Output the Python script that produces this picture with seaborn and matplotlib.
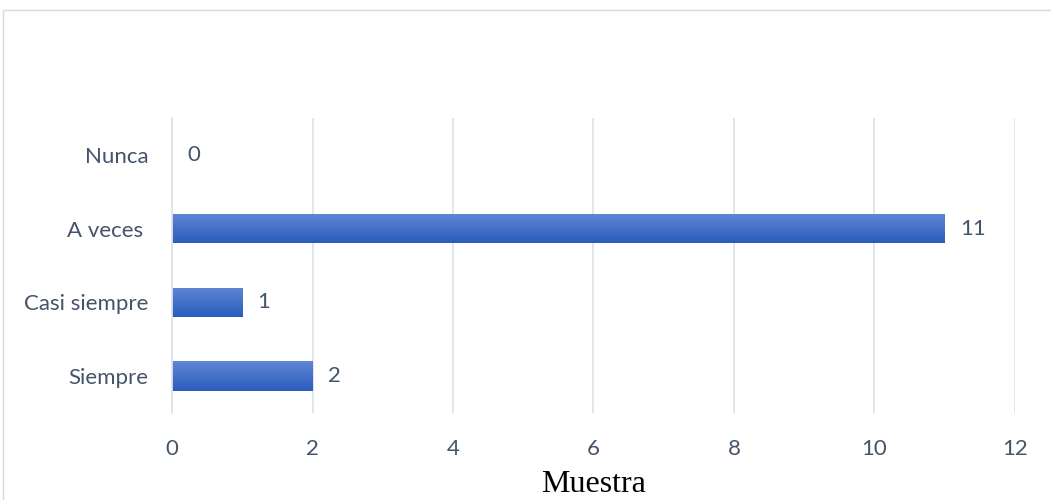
import numpy as np
import pandas as pd
import matplotlib
matplotlib.use("Agg")
import matplotlib.pyplot as plt
from matplotlib.colors import LinearSegmentedColormap
from matplotlib.patches import Rectangle
import seaborn as sns

categories = ["Nunca", "A veces ", "Casi siempre", "Siempre"]
values = [0, 11, 1, 2]
x_ticks = [0, 2, 4, 6, 8, 10, 12]
x_label = "Muestra"

sns.set_theme(style="white")
plt.rcParams["font.family"] = ["Lato", "DejaVu Sans"]

text_color = "#44546A"
df = pd.DataFrame({"categoria": categories, "valor": values})

fig = plt.figure(figsize=(10.51, 5.0), dpi=100)
ax = fig.add_axes([0.1637, 0.174, 0.802, 0.59])

sns.barplot(data=df, x="valor", y="categoria", orient="h", color="#4472C4",
            width=0.4, ax=ax)

# vertical gradient fill on each bar (lighter at the top edge)
grad = LinearSegmentedColormap.from_list("barfill", ["#6086d3", "#2a5cbd"])
g = np.linspace(0, 1, 64).reshape(-1, 1)
for patch in ax.patches:
    x0, y0 = patch.get_x(), patch.get_y()
    w, h = patch.get_width(), patch.get_height()
    if w <= 0:
        continue
    im = ax.imshow(g, cmap=grad, extent=[x0, x0 + w, y0 + h, y0],
                   aspect="auto", origin="upper", zorder=2, interpolation="bilinear")
    im.set_clip_path(patch)
    patch.set_alpha(0)

ax.set_xlim(0, 12)
ax.set_ylim(3.5, -0.5)
ax.set_xticks(x_ticks)
ax.set_xticklabels([str(t) for t in x_ticks])
ax.grid(axis="x", color="#dfe3ea", linewidth=1.3, zorder=0)
ax.set_axisbelow(True)
for s in ["top", "right", "bottom"]:
    ax.spines[s].set_visible(False)
ax.spines["left"].set_color("#dfe3ea")
ax.spines["left"].set_linewidth(1.3)
ax.tick_params(axis="both", length=0, labelsize=16, colors=text_color)
ax.tick_params(axis="y", pad=17)
ax.tick_params(axis="x", pad=19)
ax.set_ylabel("")
ax.set_xlabel(x_label, family=["Liberation Serif"], fontsize=23, color="black", labelpad=8)

for i, v in enumerate(values):
    ax.annotate(str(v), xy=(v, i), xytext=(11, 0), textcoords="offset points",
                ha="left", va="center", fontsize=16, color=text_color)

# chart-area frame
fig.patches.append(Rectangle((3 / 1051, -0.01), 1.1, 1 - 10 / 500 + 0.01,
                             transform=fig.transFigure, fill=False,
                             edgecolor="#d9d9d9", linewidth=1.0))

fig.savefig("out.png", dpi=100)
